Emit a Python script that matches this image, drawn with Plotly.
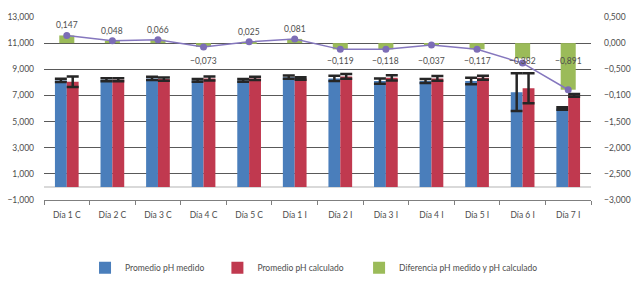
import plotly.graph_objects as go

categories = ["Día 1 C", "Día 2 C", "Día 3 C", "Día 4 C", "Día 5 C", "Día 1 I",
              "Día 2 I", "Día 3 I", "Día 4 I", "Día 5 I", "Día 6 I", "Día 7 I"]
ph_medido = [8.15, 8.2, 8.3, 8.15, 8.15, 8.4, 8.3, 8.1, 8.1, 8.1, 7.25, 6.0]
ph_medido_err = [0.12, 0.12, 0.12, 0.1, 0.1, 0.12, 0.2, 0.2, 0.15, 0.25, 1.45, 0.1]
ph_calculado = [8.05, 8.2, 8.25, 8.3, 8.3, 8.3, 8.45, 8.35, 8.3, 8.35, 7.55, 7.0]
ph_calculado_err = [0.4, 0.12, 0.12, 0.15, 0.12, 0.1, 0.18, 0.2, 0.18, 0.15, 1.15, 0.1]
diferencia_barras = [0.147, 0.048, 0.066, -0.073, 0.025, 0.081, -0.119, -0.118,
                     -0.037, -0.117, -0.29, -0.891]
diferencia_linea = [0.147, 0.048, 0.066, -0.073, 0.025, 0.081, -0.119, -0.118,
                    -0.037, -0.117, -0.382, -0.891]
left_ticks = [-1, 1, 3, 5, 7, 9, 11, 13]
left_ticktext = ["−1,000", "1,000", "3,000", "5,000", "7,000", "9,000", "11,000", "13,000"]
right_ticks = [-3, -2.5, -2, -1.5, -1, -0.5, 0, 0.5]
right_ticktext = ["−3,000", "−2,500", "−2,000", "−1,500", "−0,100", "−0,500", "0,000", "0,500"]

FONT = "Lato"
TXT = "#4d4d4d"
BLUE = "#4A7EBB"
RED = "#C0394F"
GREEN = "#9BBB59"
PURPLE = "#8577BE"
ERR = "#262626"

fig = go.Figure()
fig.add_trace(go.Bar(
    x=categories, y=ph_medido, name="Promedio pH medido", legend="legend",
    marker=dict(color=BLUE, line=dict(width=0)), offset=-0.26, width=0.26,
    error_y=dict(type="data", array=ph_medido_err, color=ERR, thickness=2.5, width=6),
))
fig.add_trace(go.Bar(
    x=categories, y=ph_calculado, name="Promedio pH calculado", legend="legend2",
    marker=dict(color=RED, line=dict(width=0)), offset=0.0, width=0.26,
    error_y=dict(type="data", array=ph_calculado_err, color=ERR, thickness=2.5, width=6),
))
fig.add_trace(go.Bar(
    x=categories, y=diferencia_barras, name="Diferencia pH medido y pH calculado",
    legend="legend3",
    marker=dict(color=GREEN, line=dict(width=0)), offset=-0.165, width=0.33,
    yaxis="y2",
))
fig.add_trace(go.Scatter(
    x=categories, y=diferencia_linea, mode="lines+markers", yaxis="y2",
    line=dict(color=PURPLE, width=1.5), marker=dict(color="#7C6DB6", size=7),
    showlegend=False, hoverinfo="skip",
))

annotations = []
for c, v in zip(categories, diferencia_linea):
    txt = f"{v:.3f}".replace(".", ",").replace("-", "−")
    if v >= 0:
        annotations.append(dict(x=c, y=v, yref="y2", xref="x", text=txt, showarrow=False,
                                yshift=10, font=dict(family=FONT, size=8.5, color=TXT)))
    else:
        annotations.append(dict(x=c, y=0, yref="y2", xref="x", text=txt, showarrow=False,
                                yshift=-18, font=dict(family=FONT, size=8.5, color=TXT)))

leg_common = dict(orientation="h", xanchor="left", y=-0.37, yanchor="middle",
                  font=dict(family=FONT, size=8.5, color=TXT), itemclick=False,
                  itemwidth=30, bgcolor="rgba(0,0,0,0)")

fig.update_layout(
    width=640, height=293,
    margin=dict(l=44, r=49, t=17, b=93, autoexpand=False),
    paper_bgcolor="white", plot_bgcolor="white",
    barmode="overlay",
    font=dict(family=FONT, size=8.5, color=TXT),
    showlegend=True,
    legend=dict(x=0.075, **leg_common),
    legend2=dict(x=0.317, **leg_common),
    legend3=dict(x=0.576, **leg_common),
    xaxis=dict(type="category", range=[-0.5, len(categories) - 0.5],
               showgrid=False, showline=True, linecolor="#7f7f7f",
               linewidth=1, ticks="outside", tickson="boundaries", ticklen=4,
               tickcolor="#7f7f7f", ticklabelstandoff=7, automargin=False,
               tickfont=dict(family=FONT, size=8.5, color=TXT)),
    yaxis=dict(range=[-1, 13], tickvals=left_ticks, ticktext=left_ticktext,
               showgrid=True, gridcolor="#595959", gridwidth=1,
               zeroline=True, zerolinecolor="#d9d9d9", zerolinewidth=2,
               ticks="", ticklabelstandoff=9, automargin=False,
               tickfont=dict(family=FONT, size=8.5, color=TXT)),
    yaxis2=dict(range=[-3, 0.5], tickvals=right_ticks, ticktext=right_ticktext,
                overlaying="y", side="right", showgrid=False, zeroline=False,
                ticks="", ticklabelstandoff=12, automargin=False,
                tickfont=dict(family=FONT, size=8.5, color=TXT)),
    annotations=annotations,
)

fig.write_html("out.html", config={"displayModeBar": False},
               post_script="document.body.style.margin='0';")
